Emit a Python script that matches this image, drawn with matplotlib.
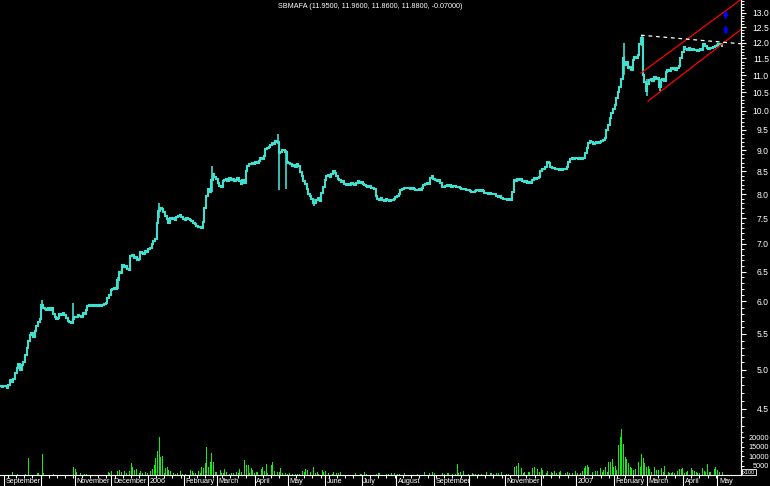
import numpy as np
import pandas as pd
import matplotlib
matplotlib.use('Agg')
import matplotlib.pyplot as plt
from matplotlib import transforms
from matplotlib.ticker import FixedLocator, NullFormatter, FormatStrFormatter

FONT = ['Liberation Sans', 'DejaVu Sans']

title = 'SBMAFA (11.9500, 11.9600, 11.8600, 11.8800, -0.07000)'
start_date = '2005-08-30'

# daily closes, one per trading day (rows roughly one month each)
close = [
    4.78, 4.77, 4.79, 4.78, 4.76, 4.80, 4.86, 4.84, 4.88, 4.95, 5.02,
    5.08, 5.00, 5.06, 5.10, 5.20, 5.30, 5.40, 5.48, 5.52, 5.46, 5.55,
    5.62, 5.68, 5.72, 5.95, 5.90, 5.88, 5.86, 5.90, 5.87, 5.89, 5.80,
    5.76, 5.72, 5.74, 5.80, 5.78, 5.81, 5.79, 5.74, 5.70, 5.68,
    5.66, 5.72, 5.76, 5.75, 5.78, 5.77, 5.76, 5.82, 5.80, 5.86, 5.92,
    5.95, 5.93, 5.94, 5.92, 5.95, 5.93, 5.94, 5.92, 5.95, 5.96, 5.97,
    6.05, 6.10, 6.18, 6.20, 6.22, 6.20, 6.35, 6.50, 6.48, 6.62, 6.58,
    6.60, 6.55, 6.52, 6.78, 6.80, 6.74, 6.76, 6.70, 6.72, 6.85, 6.84,
    6.82, 6.86, 6.85, 6.90, 6.92, 7.00, 7.05, 7.10, 7.40, 7.65, 7.70,
    7.68, 7.62, 7.55, 7.48, 7.40, 7.50, 7.48, 7.50, 7.47, 7.52, 7.55,
    7.56, 7.52, 7.48, 7.47, 7.50, 7.48, 7.46, 7.44, 7.40, 7.38,
    7.35, 7.32, 7.33, 7.30, 7.42, 7.70, 7.95, 8.10, 8.05, 8.30,
    8.45, 8.38, 8.32, 8.25, 8.18, 8.15, 8.28, 8.30, 8.32, 8.28, 8.35, 8.30,
    8.33, 8.28, 8.30, 8.35, 8.28, 8.22, 8.30, 8.25, 8.50, 8.62, 8.68,
    8.66, 8.70, 8.68, 8.72, 8.70, 8.74, 8.80, 8.78, 8.85, 9.02,
    9.05, 9.08, 9.12, 9.18, 9.15, 9.22, 9.20, 8.92, 8.95, 9.00,
    9.00, 8.95, 8.72, 8.70, 8.66, 8.62, 8.65, 8.60, 8.66, 8.62, 8.48, 8.40,
    8.28, 8.22, 8.10, 8.00, 7.95, 7.90, 7.82, 7.80, 7.88, 7.92, 7.85,
    8.02, 8.15, 8.30, 8.40, 8.42, 8.38, 8.44, 8.50, 8.46, 8.40, 8.32,
    8.30, 8.26, 8.28, 8.22, 8.20, 8.22, 8.20, 8.24, 8.22, 8.20, 8.25,
    8.28, 8.25, 8.27, 8.22, 8.20, 8.18, 8.16, 8.18, 8.14, 8.12, 8.10,
    7.95, 7.90, 7.88, 7.92, 7.88, 7.86, 7.90, 7.87, 7.86, 7.88,
    7.88, 7.90, 7.94, 7.96, 8.00, 8.08, 8.10, 8.12, 8.14, 8.12, 8.13, 8.10,
    8.12, 8.11, 8.09, 8.08, 8.10, 8.08, 8.12, 8.20, 8.22, 8.24, 8.22,
    8.35, 8.40, 8.32, 8.30, 8.28, 8.30, 8.25, 8.16, 8.15, 8.18, 8.20,
    8.17, 8.19, 8.16, 8.18, 8.17, 8.15, 8.16, 8.12, 8.10, 8.11,
    8.10, 8.09, 8.08, 8.06, 8.04, 8.05, 8.07, 8.08, 8.09, 8.07, 8.08,
    8.06, 8.03, 8.02, 8.00, 8.02, 8.01, 8.00, 7.99, 7.96, 7.94, 7.95,
    7.92, 7.90, 7.89, 7.90, 7.88, 7.90, 7.87, 8.05, 8.30, 8.28, 8.32,
    8.30, 8.33, 8.28, 8.26, 8.28, 8.25, 8.27, 8.24, 8.30, 8.35, 8.33,
    8.36, 8.38, 8.52, 8.55, 8.56, 8.60, 8.72, 8.70, 8.60, 8.58, 8.57,
    8.56, 8.55, 8.54, 8.55, 8.53, 8.55, 8.56, 8.60, 8.72, 8.78,
    8.80, 8.79, 8.81, 8.80, 8.79, 8.80, 8.78, 8.80, 8.92, 9.05, 9.18, 9.22,
    9.20, 9.15, 9.18, 9.20, 9.17, 9.19, 9.21, 9.24, 9.30, 9.50, 9.62,
    9.80, 9.95, 10.05, 10.15, 10.35, 10.50, 10.65, 10.90, 11.50, 11.30,
    11.40, 11.20, 11.25, 11.15, 11.45, 11.55, 11.50, 11.60, 11.95, 12.15,
    11.00, 10.80, 10.55, 10.75, 10.85, 10.90, 10.82, 10.95, 10.88, 10.92, 10.65,
    10.85, 10.88, 10.84, 11.10, 11.15, 11.12, 11.20, 11.18, 11.22, 11.15, 11.20,
    11.28, 11.50, 11.70, 11.85, 11.80, 11.78, 11.82, 11.76, 11.80, 11.75, 11.78,
    11.74, 11.77, 11.80, 11.78, 11.95, 11.90, 11.82, 11.80, 11.84, 11.82,
    11.86, 11.90, 11.92, 11.95, 11.94, 11.88,
]

# days whose high/low range sticks out of the close line (trading-day number)
spike_day = [25, 44, 71, 96, 128, 168, 169, 173, 190, 378, 389, 392, 400]
spike_low = [5.90, 5.70, 6.20, 7.50, 8.05, 9.15, 8.08, 8.10, 7.75, 11.00, 11.90, 10.40, 10.55]
spike_high = [6.02, 5.98, 6.40, 7.82, 8.62, 9.40, 9.00, 9.00, 7.90, 12.00, 12.25, 10.90, 10.90]

# volume (axis units, x100), by trading-day number
vol_day = [7, 10, 15, 17, 22, 23, 25, 26, 32, 44, 45, 46, 48, 51, 52, 65, 66, 67, 71, 72,
           73, 75, 76, 78, 79, 80, 81, 82, 84, 85, 86, 88, 89, 91, 92, 93, 94, 95, 96, 97,
           98, 99, 100, 101, 102, 103, 105, 106, 107, 109, 110, 112, 115, 116, 117, 118, 120, 121, 122, 123,
           124, 125, 126, 127, 128, 129, 130, 131, 133, 134, 135, 136, 137, 139, 140, 141, 143, 144, 145, 146,
           148, 149, 150, 151, 152, 153, 154, 155, 156, 158, 159, 160, 161, 162, 164, 165, 166, 168, 169, 170,
           171, 173, 174, 175, 177, 179, 180, 181, 183, 184, 185, 186, 188, 190, 191, 192, 193, 195, 196, 197,
           199, 201, 202, 204, 205, 206, 215, 218, 219, 221, 222, 228, 229, 230, 234, 235, 237, 239, 241, 242,
           245, 253, 257, 260, 262, 263, 268, 269, 271, 272, 274, 276, 277, 278, 279, 281, 284, 286, 287, 288,
           290, 292, 295, 297, 298, 299, 301, 302, 304, 307, 308, 312, 313, 314, 316, 317, 318, 320, 321, 323,
           324, 326, 327, 328, 329, 331, 332, 334, 335, 336, 337, 339, 340, 343, 344, 345, 347, 349, 350, 352,
           353, 354, 355, 356, 357, 359, 361, 362, 364, 365, 366, 367, 368, 369, 370, 371, 372, 373, 374, 375,
           376, 377, 378, 379, 380, 381, 382, 383, 384, 385, 387, 388, 389, 390, 391, 392, 393, 394, 395, 397,
           398, 399, 401, 402, 403, 405, 406, 407, 408, 409, 411, 412, 413, 414, 415, 416, 417, 419, 420, 421,
           422, 423, 424, 426, 427, 428, 429, 430, 431, 433, 434, 435, 436, 438]
volume = [1400, 500, 500, 9100, 900, 1200, 11200, 1200, 500, 4400, 3200, 1800, 1200, 500, 500, 1800, 1200, 2100, 2300, 2600,
          1800, 2300, 900, 2300, 6500, 4400, 2600, 3200, 1200, 2100, 900, 1400, 900, 2100, 3000, 5300, 9100, 12600, 20000, 9600,
          10000, 900, 3500, 4000, 2600, 2100, 900, 500, 1200, 2100, 500, 500, 2600, 2300, 900, 1200, 2100, 900, 4400, 3800,
          6500, 14700, 4400, 7000, 11700, 7000, 1400, 1800, 2600, 1200, 900, 3200, 1400, 500, 900, 900, 1400, 900, 3000, 1400,
          7900, 5300, 5300, 900, 3500, 2600, 900, 1400, 1400, 3000, 4400, 2300, 5800, 900, 5300, 6800, 2100, 1800, 1400, 3500,
          900, 900, 500, 900, 500, 500, 500, 500, 2300, 1400, 3000, 2600, 1800, 4200, 900, 1800, 500, 2600, 1800, 2300,
          900, 500, 1400, 900, 900, 1400, 900, 500, 500, 1400, 500, 500, 900, 900, 500, 500, 900, 900, 500, 500,
          900, 500, 1400, 900, 1400, 900, 900, 500, 900, 900, 500, 500, 5800, 900, 1400, 2100, 500, 900, 500, 500,
          500, 500, 1400, 900, 900, 500, 900, 900, 1400, 500, 500, 4400, 4900, 6200, 3500, 1200, 1400, 1800, 1400, 3500,
          4400, 3000, 1400, 3800, 2600, 900, 2300, 1400, 900, 2300, 900, 1400, 2300, 900, 1400, 900, 900, 2300, 900, 900,
          2300, 3500, 4700, 5300, 4400, 1400, 2300, 2100, 3800, 1400, 2600, 4400, 1800, 7000, 7000, 8200, 4000, 4900, 2600, 15800,
          20100, 24000, 16300, 9600, 8200, 6200, 4400, 3500, 2600, 3000, 7000, 4400, 11000, 8800, 6500, 4400, 4700, 3000, 1800, 4400,
          2600, 2600, 3500, 1400, 4700, 1800, 900, 900, 1400, 900, 2100, 3000, 3000, 3500, 900, 1400, 2300, 3800, 2600, 2300,
          1400, 900, 900, 3500, 2300, 1400, 5800, 1400, 1800, 3000, 4200, 2600, 1400, 1800]

# month labels at each month start (blank where the chart leaves it out)
month_labels = ['September', '', 'November', 'December', '2006', 'February', 'March', 'April',
                'May', 'June', 'July', 'August', 'September', '', 'November', '', '2007',
                'February', 'March', 'April', 'May']

# drawn trend lines: (start day, end day) and prices
channel_up_day = [388.6, 450]
channel_up_price = [11.06, 13.50]
channel_lo_day = [392.8, 450]
channel_lo_price = [10.26, 12.46]
resist_day = [388.6, 450]
resist_price = [12.24, 11.96]

# blue buy arrows (tip prices)
arrow_day = [440, 440]
arrow_price = [13.10, 12.58]

dates = pd.bdate_range(start_date, periods=len(close))
days = np.arange(len(close))
month_pos = [i for i in range(1, len(dates)) if dates[i].month != dates[i - 1].month]
week_pos = [i for i in range(len(dates)) if dates[i].weekday() == 0]

fig = plt.figure(figsize=(7.7, 4.86), dpi=100, facecolor='black')
ax = fig.add_axes([0, 11 / 486, 741 / 770, 475 / 486])
ax.set_facecolor('black')
ax2 = ax.twinx()   # volume pane shares the same box

ax.plot(days, close, color='#40e0d0', lw=1.5, drawstyle='steps-mid', solid_joinstyle='miter')
lows = np.minimum(spike_low, np.array(close)[spike_day])
highs = np.maximum(spike_high, np.array(close)[spike_day])
ax.vlines(spike_day, lows, highs, color='#40e0d0', lw=1.2)

ax.plot(channel_up_day, channel_up_price, color='red', lw=0.9)
ax.plot(channel_lo_day, channel_lo_price, color='red', lw=0.9)
ax.plot(resist_day, resist_price, color='white', lw=0.9, dashes=(3, 3))
for d, p in zip(arrow_day, arrow_price):
    ax.annotate('', xy=(d, p), xytext=(d, p * 0.978),
                arrowprops=dict(arrowstyle='-|>', color='#0000ff', lw=1.6, mutation_scale=5,
                                shrinkA=0, shrinkB=0))

ax.set_yscale('log')
ax.set_ylim(3.77, 13.45)
ax.set_xlim(-0.6, 449.3)
ax.yaxis.tick_right()
ax.yaxis.set_major_locator(FixedLocator(np.arange(4.5, 13.01, 0.5)))
ax.yaxis.set_major_formatter(FormatStrFormatter('%.1f'))
ax.yaxis.set_minor_locator(FixedLocator(np.arange(4.3, 13.45, 0.1)))
ax.yaxis.set_minor_formatter(NullFormatter())
ax.tick_params(axis='y', which='major', colors='white', length=3.6, width=0.8, pad=16.5,
               labelsize=6.2, labelfontfamily=FONT, left=False, labelleft=False,
               right=True, labelright=True)
ax.tick_params(axis='y', which='minor', colors='white', length=1.9, width=0.7,
               left=False, right=True)
for lbl in ax.get_yticklabels():
    lbl.set_horizontalalignment('right')

ax.set_xticks(month_pos)
ax.set_xticklabels([])
ax.xaxis.set_minor_locator(FixedLocator(week_pos))
ax.tick_params(axis='x', which='major', colors='white', length=8, width=0.8)
ax.tick_params(axis='x', which='minor', colors='white', length=2, width=0.7)
trans = transforms.blended_transform_factory(ax.transData, ax.transAxes)
for pos, lab in zip(month_pos, month_labels):
    ax.text(pos + 1, -0.014, lab, transform=trans, ha='left', va='center', color='white',
            fontsize=5.2, family=FONT, clip_on=False)

for side in ['left', 'top']:
    ax.spines[side].set_visible(False)
ax.spines['right'].set_color('white')
ax.spines['bottom'].set_color('white')

ax2.bar(vol_day, volume, width=0.6, color='#11ee11')
ax2.set_ylim(0, 250000)
ax2.set_yticks([5000, 10000, 15000, 20000])
ax2.set_yticklabels(['5000', '10000', '15000', '20000'])
ax2.yaxis.set_minor_locator(FixedLocator(np.arange(2500, 25000, 2500)))
ax2.tick_params(axis='y', which='major', colors='white', length=2.2, width=0.7, pad=18,
                labelsize=5.3, labelfontfamily=FONT)
ax2.tick_params(axis='y', which='minor', colors='white', length=1.2, width=0.6)
for lbl in ax2.get_yticklabels():
    lbl.set_horizontalalignment('right')
for side in ['left', 'top', 'bottom']:
    ax2.spines[side].set_visible(False)
ax2.spines['right'].set_color('white')

fig.text(749 / 770, 1 - 472 / 486, 'x100', color='white', fontsize=4, family=FONT,
         ha='center', va='center',
         bbox=dict(facecolor='black', edgecolor='white', pad=0.4, lw=0.6))
fig.text(370 / 770, 1 - 6 / 486, title, color='white', fontsize=5.2, family=FONT,
         ha='center', va='center')

fig.savefig('out.png', dpi=100, facecolor='black')
